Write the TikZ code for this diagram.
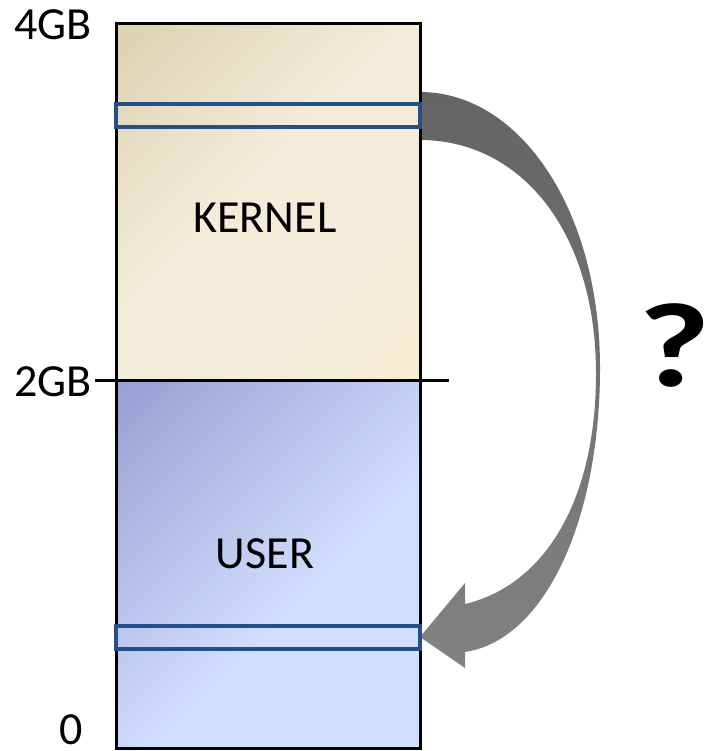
\documentclass[tikz,border=0pt]{standalone}
\usepackage{fontspec}
\setmainfont{Carlito}
\definecolor{tanA}{RGB}{210,197,158}
\definecolor{tanB}{RGB}{242,236,216}
\definecolor{tanC}{RGB}{253,236,206}
\definecolor{userA}{RGB}{130,136,196}
\definecolor{userB}{RGB}{211,223,255}
\definecolor{userC}{RGB}{150,172,150}
\definecolor{stripblue}{RGB}{38,78,138}
\definecolor{arrowtop}{RGB}{100,100,100}
\definecolor{arrowbot}{RGB}{130,130,130}
\pgfdeclarehorizontalshading{kernelshade}{100bp}{%
  color(0bp)=(tanA); color(45bp)=(tanB); color(68bp)=(tanB); color(100bp)=(tanC)}
\pgfdeclarehorizontalshading{usershade}{100bp}{%
  color(0bp)=(userA); color(58bp)=(userB); color(90bp)=(userB); color(100bp)=(userC)}
\tikzset{
  label/.style={font=\fontsize{46}{50}\selectfont, inner sep=0pt},
  frame/.style={draw=black, line width=3pt},
  strip/.style={draw=stripblue, line width=3.3pt},
}
\begin{document}
\begin{tikzpicture}[x=1pt,y=-1pt]
  \useasboundingbox (0,0) rectangle (712,751);

  % curved transfer arrow from the upper strip to the lower strip
  \shade[top color=arrowtop, bottom color=arrowbot]
    (420,92) .. controls (520,92) and (600,210) .. (600,368)
    .. controls (600,520) and (545,640) .. (465,652)
    -- (465,668) -- (420,637) -- (465,583) -- (465,604)
    .. controls (545,585) and (596,500) .. (596,374)
    .. controls (596,230) and (520,140) .. (420,140) -- cycle;

  % memory regions
  \shade[shading=kernelshade, shading angle=-45] (116,24) rectangle (420,380);
  \shade[shading=usershade, shading angle=-45] (116,380) rectangle (420,748);
  \draw[frame] (116,24) rectangle (420,748);

  % 2GB boundary
  \coordinate (split-l) at (95,380);
  \coordinate (split-r) at (449,380);
  \draw[frame] (split-l) -- (split-r);

  % highlighted entries
  \draw[strip] (116,104) rectangle (420,127);
  \draw[strip] (116,626) rectangle (420,649);

  % labels
  \node[label, anchor=base east] (l4) at (92,40) {4GB};
  \node[label, anchor=base east] (l2) at (92,396) {2GB};
  \node[label, anchor=base] (l0) at (71,744) {0};
  \node[label, anchor=base] (kernel) at (265,233) {KERNEL};
  \node[label, anchor=base] (user) at (265,568) {USER};
  \node[inner sep=0pt, anchor=base east, font=\fontsize{120}{130}\selectfont\bfseries] (q) at (711,386) {\scalebox{1.3}[1]{?}};
\end{tikzpicture}
\end{document}
